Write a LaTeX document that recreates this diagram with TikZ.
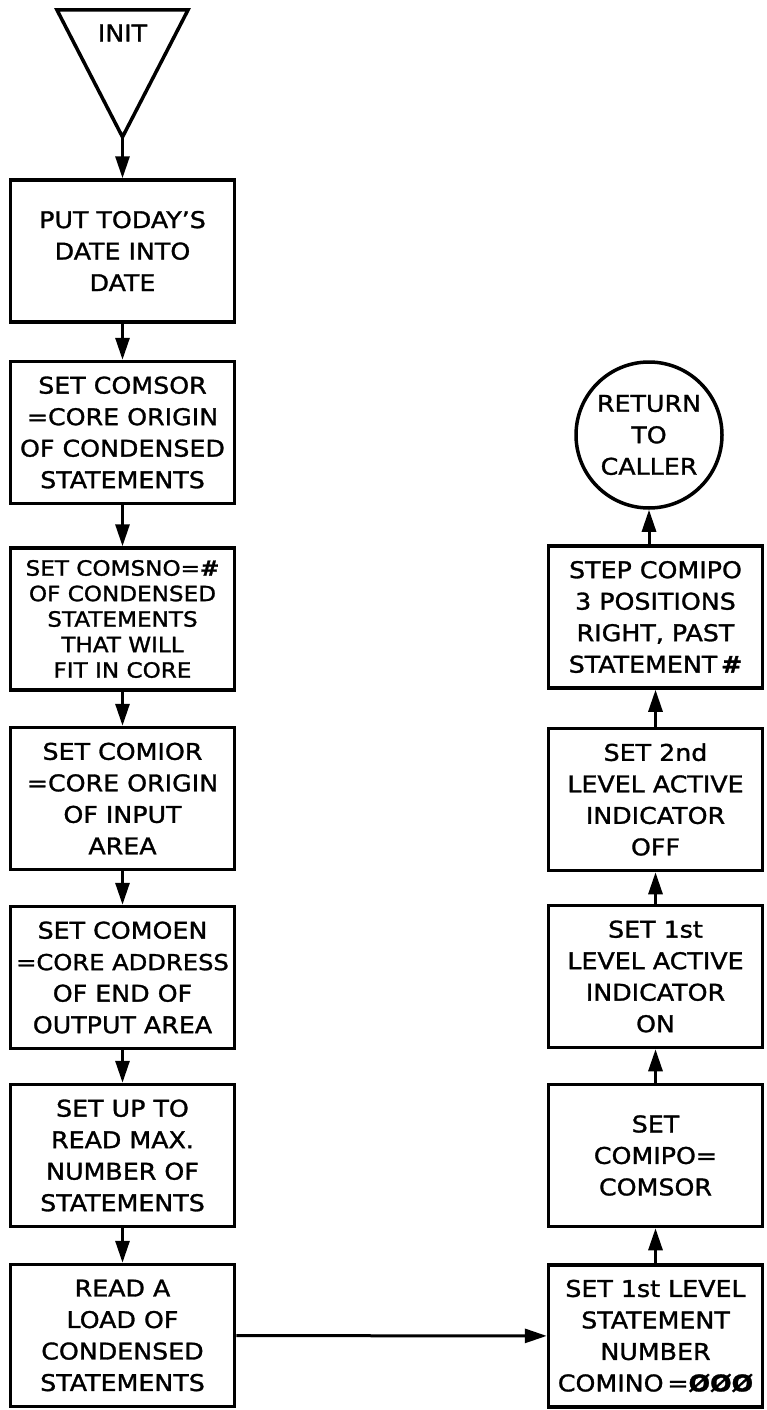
\documentclass[tikz,border=0pt]{standalone}
\usepackage{fontspec}
\setmainfont[FakeStretch=1.1,FakeBold=1.3]{DejaVu Sans}
\usetikzlibrary{arrows.meta}
\tikzset{
  box/.style={draw, line width=3.5pt, minimum height=142pt, inner sep=0pt,
    align=center, font=\fontsize{23}{31.5}\selectfont},
  lbox/.style={box, minimum width=224pt},
  rbox/.style={box, minimum width=214pt},
  flow/.style={line width=3pt, -{Triangle[length=22pt,width=14pt]}},
}
\begin{document}
\begin{tikzpicture}[x=1pt,y=-1pt]
\useasboundingbox (0,0) rectangle (766,1410);
% start triangle
\draw[line width=3.5pt] (57,10) -- (188,10) -- (122.5,137) -- cycle;
\node[font=\fontsize{23}{28}\selectfont] (init) at (122.5,33) {INIT};
\coordinate (apex) at (122.5,137);
% left column
\node[lbox] (b1) at (122.5,251) {PUT TODAY'S\\DATE INTO\\DATE};
\node[lbox] (b2) at (122.5,432.5) {SET COMSOR\\=CORE ORIGIN\\OF CONDENSED\\STATEMENTS};
\node[lbox, font=\fontsize{21}{25.5}\selectfont] (b3) at (122.5,619) {SET COMSNO=\textbf{\#}\\OF CONDENSED\\STATEMENTS\\THAT WILL\\FIT IN CORE};
\node[lbox] (b4) at (122.5,798.5) {SET COMIOR\\=CORE ORIGIN\\OF INPUT\\AREA};
\node[lbox] (b5) at (122.5,977.5) {SET COMOEN\\{\fontsize{22}{31.5}\selectfont =CORE ADDRESS}\\OF END OF\\OUTPUT AREA};
\node[lbox] (b6) at (122.5,1155.5) {SET UP TO\\READ MAX.\\NUMBER OF\\STATEMENTS};
\node[lbox] (b7) at (122.5,1335.5) {READ A\\LOAD OF\\CONDENSED\\STATEMENTS};
% right column
\node[draw, circle, line width=3.5pt, minimum size=146pt, inner sep=0pt, align=center,
  font=\fontsize{23}{31.5}\selectfont] (ret) at (649,435) {RETURN\\TO\\CALLER};
\node[rbox] (r1) at (655.5,617) {STEP COMIPO\\3 POSITIONS\\RIGHT, PAST\\STATEMENT\,\textbf{\#}};
\node[rbox] (r2) at (655.5,799.5) {SET 2nd\\LEVEL ACTIVE\\INDICATOR\\OFF};
\node[rbox] (r3) at (655.5,976.5) {SET 1st\\LEVEL ACTIVE\\INDICATOR\\ON};
\node[rbox] (r4) at (655.5,1155.5) {SET\\COMIPO=\\COMSOR};
\node[rbox] (r5) at (655.5,1336) {SET 1st LEVEL\\STATEMENT\\NUMBER\\COMINO\,=\textbf{ØØØ}};
% connectors
\draw[flow] (apex) -- (b1.north);
\draw[flow] (b1) -- (b2);
\draw[flow] (b2) -- (b3);
\draw[flow] (b3) -- (b4);
\draw[flow] (b4) -- (b5);
\draw[flow] (b5) -- (b6);
\draw[flow] (b6) -- (b7);
\draw[flow] (b7) -- (r5);
\draw[flow] (r5) -- (r4);
\draw[flow] (r4) -- (r3);
\draw[flow] (r3) -- (r2);
\draw[flow] (r2) -- (r1);
\draw[flow] (r1.north -| ret) -- (ret.south);
\end{tikzpicture}
\end{document}
